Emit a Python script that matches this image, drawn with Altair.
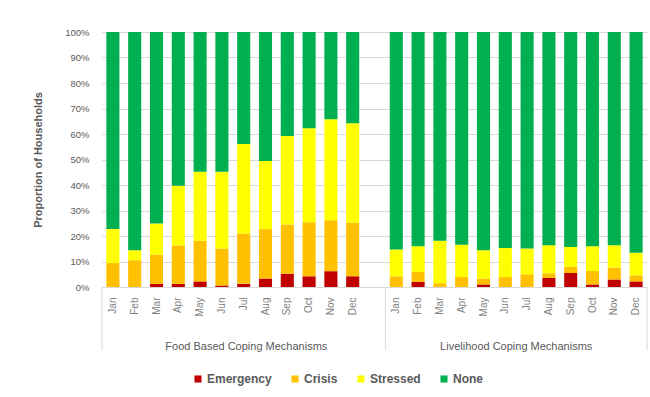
import altair as alt
import pandas as pd

# Monthly share of households (%) by coping-strategy severity
months = ["Jan", "Feb", "Mar", "Apr", "May", "Jun",
          "Jul", "Aug", "Sep", "Oct", "Nov", "Dec"]
groups = ["Food Based Coping Mechanisms", "Livelihood Coping Mechanisms"]
group_keys = ["Food", "Livelihood"]
levels = ["Emergency", "Crisis", "Stressed", "None"]
level_colors = ["#C00000", "#FFC000", "#FFFF00", "#00B050"]

food_emergency = [0.0, 0.0, 1.2, 1.2, 2.2, 0.6, 1.3, 3.3, 5.2, 4.2, 6.2, 4.2]
food_crisis = [9.4, 10.5, 11.5, 15.1, 15.9, 14.5, 19.7, 19.4, 19.3, 21.2, 20.0, 21.1]
food_stressed = [13.3, 3.9, 12.2, 23.4, 27.1, 30.1, 35.1, 26.7, 34.7, 36.9, 39.6, 38.9]
food_none = [77.3, 85.6, 75.1, 60.3, 54.8, 54.8, 43.9, 50.6, 40.8, 37.7, 34.2, 35.8]

liv_emergency = [0.0, 2.0, 0.0, 0.0, 1.0, 0.0, 0.0, 3.6, 5.5, 1.0, 2.9, 2.2]
liv_crisis = [4.2, 3.9, 1.5, 3.9, 2.3, 3.9, 5.0, 1.8, 2.4, 5.3, 4.7, 2.4]
liv_stressed = [10.5, 10.1, 16.6, 12.7, 11.1, 11.4, 10.1, 11.0, 7.8, 9.7, 8.8, 8.8]
liv_none = [85.3, 84.0, 81.9, 83.4, 85.6, 84.7, 84.9, 83.6, 84.3, 84.0, 83.6, 86.6]

series = {
    "Food": [food_emergency, food_crisis, food_stressed, food_none],
    "Livelihood": [liv_emergency, liv_crisis, liv_stressed, liv_none],
}

rows = []
for g in group_keys:
    for li, lvl in enumerate(levels):
        for mi, m in enumerate(months):
            rows.append({"key": f"{g}|{m}", "level": lvl, "order": li,
                         "value": series[g][li][mi] / 100.0})
df = pd.DataFrame(rows)

# category slots: food months, an empty spacer, livelihood months
slots = [f"Food|{m}" for m in months] + ["gap"] + [f"Livelihood|{m}" for m in months]

W, H = 545, 255
FONT = "Liberation Sans"
GRID = "#D9D9D9"
TXT = "#595959"
HALF_GAP = -0.2 * W / len(slots)  # half of the inner padding between two bars

x_scale = alt.Scale(domain=slots, paddingInner=0.4, paddingOuter=0.2)

bars = alt.Chart(df).mark_bar().encode(
    x=alt.X("key:N", scale=x_scale, sort=slots,
            axis=alt.Axis(title=None, labelAngle=-90, ticks=False,
                          labelExpr="indexof(datum.value, '|') >= 0 ? split(datum.value, '|')[1] : ''",
                          labelPadding=10, labelFontSize=10, labelColor="#7F7F7F",
                          labelFont=FONT, domainColor=GRID, grid=False)),
    y=alt.Y("value:Q", stack="zero",
            scale=alt.Scale(domain=[0, 1], nice=False),
            axis=alt.Axis(format=".0%", values=[i / 10 for i in range(11)],
                          title="Proportion of Households", ticks=False, domain=False,
                          gridColor=GRID, labelFontSize=9.5, labelColor=TXT,
                          labelFont=FONT, labelPadding=13,
                          titleFont=FONT, titleFontSize=11, titleFontWeight="bold",
                          titleColor=TXT, titleAngle=270, titleAlign="center",
                          titleBaseline="middle", titleX=-64, titleY=H / 2)),
    color=alt.Color("level:N", sort=levels,
                    scale=alt.Scale(domain=levels, range=level_colors),
                    legend=alt.Legend(title=None, orient="none", direction="horizontal",
                                      legendX=90, legendY=341, symbolType="square",
                                      symbolSize=50, symbolStrokeWidth=0,
                                      labelOffset=3, columnPadding=17, labelFont=FONT,
                                      labelFontSize=12, labelFontWeight="bold",
                                      labelColor=TXT)),
    order=alt.Order("order:Q", sort="ascending"),
)

# group dividers below the category axis
mid_divider = alt.Chart(pd.DataFrame({"key": ["Livelihood|Jan"]})).mark_rule(
    color=GRID, strokeWidth=1, xOffset=HALF_GAP).encode(
    x=alt.X("key:N", scale=x_scale, sort=slots, bandPosition=0),
    y=alt.value(H), y2=alt.value(H + 63))
left_divider = alt.Chart(pd.DataFrame({"edge": [0]})).mark_rule(
    color=GRID, strokeWidth=1).encode(
    x=alt.value(0), y=alt.value(H), y2=alt.value(H + 63))
right_divider = alt.Chart(pd.DataFrame({"edge": [W]})).mark_rule(
    color=GRID, strokeWidth=1).encode(
    x=alt.value(W), y=alt.value(H), y2=alt.value(H + 63))

food_label = alt.Chart(pd.DataFrame({"key": ["Food|Jul"], "name": [groups[0]]})).mark_text(
    font=FONT, fontSize=11, color=TXT, baseline="middle", align="center").encode(
    x=alt.X("key:N", scale=x_scale, sort=slots, bandPosition=0.7),
    y=alt.value(H + 60), text="name:N")
liv_label = alt.Chart(pd.DataFrame({"key": ["Livelihood|Jul"], "name": [groups[1]]})).mark_text(
    font=FONT, fontSize=11, color=TXT, baseline="middle", align="center",
    dx=HALF_GAP).encode(
    x=alt.X("key:N", scale=x_scale, sort=slots, bandPosition=0),
    y=alt.value(H + 60), text="name:N")

chart = alt.layer(bars, mid_divider, left_divider, right_divider, food_label, liv_label).properties(
    width=W, height=H,
    autosize=alt.AutoSizeParams(type="none"),
    padding={"left": 102, "top": 32, "right": 3, "bottom": 110},
    background="white",
).configure_view(stroke=None)

chart.save("out.html", embed_options={"renderer": "svg", "actions": False})
